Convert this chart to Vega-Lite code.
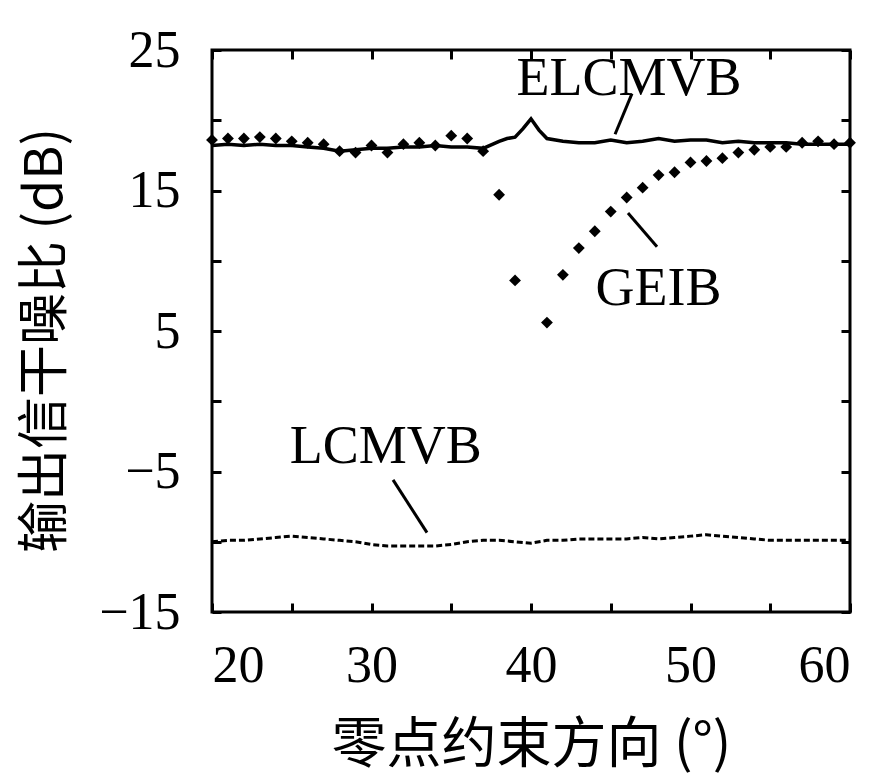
{
  "$schema": "https://vega.github.io/schema/vega-lite/v6.json",
  "width": 638,
  "height": 562,
  "autosize": {"type": "none"},
  "padding": {"left": 212, "top": 50, "right": 32, "bottom": 166},
  "background": "white",
  "config": {
    "view": {"stroke": "black", "strokeWidth": 3},
    "axis": {
      "grid": false,
      "domain": false,
      "ticks": true,
      "tickColor": "black",
      "tickWidth": 3,
      "tickSize": -9,
      "labelFont": "Liberation Serif",
      "labelFontSize": 52,
      "labelColor": "black",
      "titleFont": "Noto Sans CJK SC",
      "titleFontSize": 55,
      "titleFontWeight": "normal",
      "titleColor": "black"
    }
  },
  "datasets": {
    "elcmvb": [
      {"angle": 20, "snr": 18.2}, {"angle": 21, "snr": 18.3}, {"angle": 22, "snr": 18.2}, {"angle": 23, "snr": 18.3},
      {"angle": 24, "snr": 18.2}, {"angle": 25, "snr": 18.2}, {"angle": 26, "snr": 18.1}, {"angle": 27, "snr": 18.0},
      {"angle": 28, "snr": 17.8}, {"angle": 29, "snr": 17.9}, {"angle": 30, "snr": 18.0}, {"angle": 31, "snr": 18.0},
      {"angle": 32, "snr": 18.1}, {"angle": 33, "snr": 18.1}, {"angle": 34, "snr": 18.2}, {"angle": 35, "snr": 18.1},
      {"angle": 36, "snr": 18.1}, {"angle": 37, "snr": 18.0}, {"angle": 38, "snr": 18.5}, {"angle": 38.5, "snr": 18.7},
      {"angle": 39, "snr": 18.8}, {"angle": 39.5, "snr": 19.4}, {"angle": 40, "snr": 20.1}, {"angle": 40.5, "snr": 19.3},
      {"angle": 41, "snr": 18.7}, {"angle": 42, "snr": 18.5}, {"angle": 43, "snr": 18.4}, {"angle": 44, "snr": 18.4},
      {"angle": 45, "snr": 18.6}, {"angle": 46, "snr": 18.4}, {"angle": 47, "snr": 18.5}, {"angle": 48, "snr": 18.7},
      {"angle": 49, "snr": 18.5}, {"angle": 50, "snr": 18.6}, {"angle": 51, "snr": 18.6}, {"angle": 52, "snr": 18.4},
      {"angle": 53, "snr": 18.5}, {"angle": 54, "snr": 18.4}, {"angle": 55, "snr": 18.4}, {"angle": 56, "snr": 18.4},
      {"angle": 57, "snr": 18.3}, {"angle": 58, "snr": 18.3}, {"angle": 59, "snr": 18.3}, {"angle": 60, "snr": 18.3}
    ],
    "geib": [
      {"angle": 20, "snr": 18.6}, {"angle": 21, "snr": 18.7}, {"angle": 22, "snr": 18.7}, {"angle": 23, "snr": 18.8},
      {"angle": 24, "snr": 18.7}, {"angle": 25, "snr": 18.5}, {"angle": 26, "snr": 18.4}, {"angle": 27, "snr": 18.3},
      {"angle": 28, "snr": 17.8}, {"angle": 29, "snr": 17.7}, {"angle": 30, "snr": 18.2}, {"angle": 31, "snr": 17.7},
      {"angle": 32, "snr": 18.3}, {"angle": 33, "snr": 18.4}, {"angle": 34, "snr": 18.2}, {"angle": 35, "snr": 18.9},
      {"angle": 36, "snr": 18.7}, {"angle": 37, "snr": 17.8}, {"angle": 38, "snr": 14.7}, {"angle": 39, "snr": 8.6},
      {"angle": 41, "snr": 5.6}, {"angle": 42, "snr": 9.0}, {"angle": 43, "snr": 10.9}, {"angle": 44, "snr": 12.1},
      {"angle": 45, "snr": 13.5}, {"angle": 46, "snr": 14.5}, {"angle": 47, "snr": 15.2}, {"angle": 48, "snr": 16.1},
      {"angle": 49, "snr": 16.3}, {"angle": 50, "snr": 17.0}, {"angle": 51, "snr": 17.1}, {"angle": 52, "snr": 17.3},
      {"angle": 53, "snr": 17.7}, {"angle": 54, "snr": 17.9}, {"angle": 55, "snr": 18.1}, {"angle": 56, "snr": 18.1},
      {"angle": 57, "snr": 18.4}, {"angle": 58, "snr": 18.5}, {"angle": 59, "snr": 18.3}, {"angle": 60, "snr": 18.4}
    ],
    "lcmvb": [
      {"angle": 20, "snr": -10.0}, {"angle": 21, "snr": -9.9}, {"angle": 22, "snr": -9.9}, {"angle": 23, "snr": -9.8},
      {"angle": 24, "snr": -9.7}, {"angle": 25, "snr": -9.6}, {"angle": 26, "snr": -9.7}, {"angle": 27, "snr": -9.8},
      {"angle": 28, "snr": -9.9}, {"angle": 29, "snr": -10.0}, {"angle": 30, "snr": -10.2}, {"angle": 31, "snr": -10.3},
      {"angle": 32, "snr": -10.3}, {"angle": 33, "snr": -10.3}, {"angle": 34, "snr": -10.3}, {"angle": 35, "snr": -10.2},
      {"angle": 36, "snr": -10.0}, {"angle": 37, "snr": -9.9}, {"angle": 38, "snr": -9.9}, {"angle": 39, "snr": -10.0},
      {"angle": 40, "snr": -10.1}, {"angle": 41, "snr": -9.9}, {"angle": 42, "snr": -9.9}, {"angle": 43, "snr": -9.8},
      {"angle": 44, "snr": -9.8}, {"angle": 45, "snr": -9.8}, {"angle": 46, "snr": -9.8}, {"angle": 47, "snr": -9.7},
      {"angle": 48, "snr": -9.8}, {"angle": 49, "snr": -9.7}, {"angle": 50, "snr": -9.6}, {"angle": 51, "snr": -9.5},
      {"angle": 52, "snr": -9.6}, {"angle": 53, "snr": -9.7}, {"angle": 54, "snr": -9.8}, {"angle": 55, "snr": -9.9},
      {"angle": 56, "snr": -9.9}, {"angle": 57, "snr": -9.9}, {"angle": 58, "snr": -9.9}, {"angle": 59, "snr": -9.9},
      {"angle": 60, "snr": -9.9}
    ],
    "labels": [
      {"text": "ELCMVB", "angle": 46.14, "snr": 21.8},
      {"text": "GEIB", "angle": 47.99, "snr": 6.85},
      {"text": "LCMVB", "angle": 30.9, "snr": -4.4}
    ],
    "leaders": [
      {"a1": 46.33, "s1": 21.9, "a2": 45.27, "s2": 19.0},
      {"a1": 46.08, "s1": 13.4, "a2": 47.9, "s2": 11.0},
      {"a1": 31.35, "s1": -5.6, "a2": 33.48, "s2": -9.35}
    ]
  },
  "layer": [
    {
      "data": {"name": "lcmvb"},
      "mark": {"type": "line", "color": "black", "strokeWidth": 3, "strokeDash": [6, 3]},
      "encoding": {
        "x": {"field": "angle", "type": "quantitative", "scale": {"domain": [20, 60], "nice": false, "zero": false},
          "axis": {"orient": "bottom", "values": [20, 25, 30, 35, 40, 45, 50, 55, 60], "labelExpr": "datum.value % 10 == 0 ? datum.label : ''", "labelPadding": 37, "title": "零点约束方向 (°)", "titlePadding": 27}},
        "y": {"field": "snr", "type": "quantitative", "scale": {"domain": [-15, 25], "nice": false, "zero": false},
          "axis": {"orient": "left", "values": [-15, -10, -5, 0, 5, 10, 15, 20, 25], "labelExpr": "datum.value % 10 != 0 ? datum.label : ''", "labelPadding": 41, "title": "输出信干噪比 (dB)", "titleFontSize": 52, "titlePadding": 26, "titleY": 290}}
      }
    },
    {
      "data": {"name": "elcmvb"},
      "mark": {"type": "line", "color": "black", "strokeWidth": 3.5},
      "encoding": {
        "x": {"field": "angle", "type": "quantitative",
          "axis": {"orient": "top", "values": [20, 25, 30, 35, 40, 45, 50, 55, 60], "labels": false, "title": null}},
        "y": {"field": "snr", "type": "quantitative",
          "axis": {"orient": "right", "values": [-15, -10, -5, 0, 5, 10, 15, 20, 25], "labels": false, "title": null}}
      }
    },
    {
      "data": {"name": "geib"},
      "mark": {"type": "point", "shape": "diamond", "filled": true, "color": "black", "size": 140, "opacity": 1},
      "encoding": {
        "x": {"field": "angle", "type": "quantitative", "axis": null},
        "y": {"field": "snr", "type": "quantitative", "axis": null}
      }
    },
    {
      "data": {"name": "leaders"},
      "mark": {"type": "rule", "color": "black", "strokeWidth": 3},
      "encoding": {
        "x": {"field": "a1", "type": "quantitative", "axis": null},
        "y": {"field": "s1", "type": "quantitative", "axis": null},
        "x2": {"field": "a2"},
        "y2": {"field": "s2"}
      }
    },
    {
      "data": {"name": "labels"},
      "mark": {"type": "text", "font": "Liberation Serif", "fontSize": 54, "color": "black", "align": "center", "baseline": "alphabetic"},
      "encoding": {
        "x": {"field": "angle", "type": "quantitative", "axis": null},
        "y": {"field": "snr", "type": "quantitative", "axis": null},
        "text": {"field": "text"}
      }
    }
  ],
  "resolve": {"axis": {"x": "independent", "y": "independent"}}
}
